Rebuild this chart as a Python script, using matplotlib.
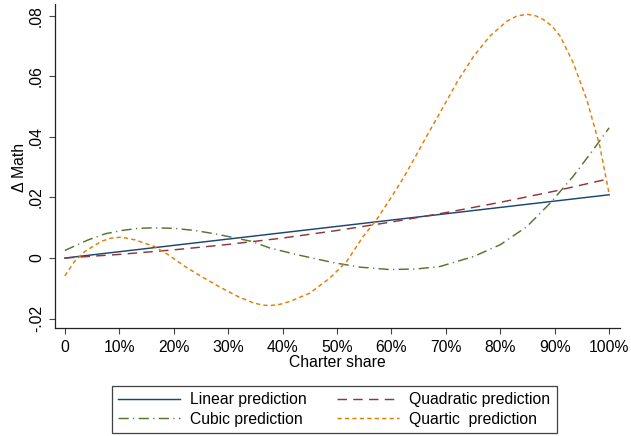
import matplotlib
matplotlib.use("Agg")
import matplotlib.pyplot as plt

plt.rcParams['font.family'] = ['Liberation Sans', 'DejaVu Sans']

# ---- data ----
linear_x = [0.0, 0.5, 1.0]
linear_y = [0.0, 0.01045, 0.0209]

quad_x = [0.0, 0.1, 0.2, 0.3, 0.4, 0.5, 0.6, 0.7, 0.8, 0.9, 1.0]
quad_y = [0.0, 0.0012, 0.0027, 0.0045, 0.0066, 0.0091, 0.0119, 0.0150, 0.0184, 0.0221, 0.0262]

cubic_x = [0.0, 0.043, 0.074, 0.104, 0.135, 0.165, 0.202, 0.239, 0.276, 0.306,
           0.343, 0.377, 0.432, 0.493, 0.542, 0.597, 0.646, 0.689, 0.751,
           0.800, 0.849, 0.892, 0.934, 0.971, 1.0]
cubic_y = [0.0025, 0.0060, 0.0080, 0.0091, 0.0098, 0.0100, 0.0098, 0.0091, 0.0080, 0.0069,
           0.0055, 0.0033, 0.0009, -0.0015, -0.0030, -0.0038, -0.0036, -0.0028, 0.0005,
           0.0044, 0.0104, 0.0182, 0.0270, 0.0358, 0.0430]

quart_x = [0.0, 0.018, 0.037, 0.067, 0.085, 0.104, 0.129, 0.165, 0.19, 0.221, 0.251, 0.288,
           0.318, 0.345, 0.362, 0.377, 0.395, 0.414, 0.450, 0.487, 0.518, 0.548, 0.573, 0.597,
           0.622, 0.646, 0.668, 0.689, 0.720, 0.751, 0.781, 0.812, 0.830, 0.849, 0.865, 0.879,
           0.895, 0.910, 0.934, 0.959, 0.983, 1.0]
quart_y = [-0.0059, -0.0011, 0.0022, 0.0055, 0.0066, 0.0069, 0.0060, 0.0038, 0.0011, -0.0028, -0.0061, -0.0099,
           -0.0127, -0.0147, -0.0155, -0.0157, -0.0153, -0.0143, -0.0116, -0.0066, -0.0011, 0.0071, 0.0127, 0.0193,
           0.0264, 0.0341, 0.0413, 0.0479, 0.0579, 0.0666, 0.0733, 0.0782, 0.0799, 0.0805, 0.0800, 0.0788,
           0.0766, 0.0733, 0.0645, 0.0523, 0.0369, 0.0212]

x_ticks = [0.0, 0.1, 0.2, 0.3, 0.4, 0.5, 0.6, 0.7, 0.8, 0.9, 1.0]
x_ticklabels = ['0', '10%', '20%', '30%', '40%', '50%', '60%', '70%', '80%', '90%', '100%']
y_ticks = [-0.02, 0.0, 0.02, 0.04, 0.06, 0.08]
y_ticklabels = ['-.02', '0', '.02', '.04', '.06', '.08']

labels = ['Linear prediction', 'Quadratic prediction', 'Cubic prediction', 'Quartic  prediction']

# ---- figure ----
fig = plt.figure(figsize=(6.31, 4.36), dpi=100)
ax = fig.add_axes([55/631, 1-328/436, (620-55)/631, (328-4)/436])

fs = 11.3
lw = 1.05
h1, = ax.plot(linear_x, linear_y, color='#1a476f', lw=lw, linestyle='-')
h2, = ax.plot(quad_x, quad_y, color='#90353b', lw=lw, linestyle=(0, (6.5, 4.3)))
h3, = ax.plot(cubic_x, cubic_y, color='#55752f', lw=lw, linestyle=(0, (7, 3, 0.8, 3)))
h4, = ax.plot(quart_x, quart_y, color='#e37e00', lw=lw, linestyle=(0, (2.9, 2.2)))

ax.set_xlim(-0.018, 1.02)
ax.set_ylim(-0.0231, 0.0839)

for s in ['top', 'right']:
    ax.spines[s].set_visible(False)
for s in ['left', 'bottom']:
    ax.spines[s].set_color('#222222')
    ax.spines[s].set_linewidth(0.9)

ax.set_xticks(x_ticks)
ax.set_xticklabels(x_ticklabels, fontsize=fs)
ax.set_yticks(y_ticks)
ax.set_yticklabels(y_ticklabels, fontsize=fs)
plt.setp(ax.get_yticklabels(), rotation=90, va='center', ha='right')
ax.tick_params(axis='both', length=4, width=0.8, color='#444444', direction='out')
ax.tick_params(axis='x', pad=4.5)
ax.tick_params(axis='y', pad=4)

ax.set_xlabel('Charter share', fontsize=fs)
ax.xaxis.set_label_coords(0.499, -0.108)
ax.xaxis.label.set_va('center')
ax.set_ylabel('\u0394 Math', fontsize=fs)
ax.yaxis.set_label_coords(-0.0637, 0.497)
ax.yaxis.label.set_va('center')

leg = fig.legend([h1, h3, h2, h4], [labels[0], labels[2], labels[1], labels[3]],
                 ncol=2, loc='lower left',
                 bbox_to_anchor=(112/631, 1-433/436),
                 fontsize=fs, handlelength=3.95, handletextpad=0.65,
                 borderpad=0.4, labelspacing=0.3, columnspacing=1.9,
                 fancybox=False, frameon=True, borderaxespad=0)
leg.get_frame().set_edgecolor('#111111')
leg.get_frame().set_linewidth(0.9)

fig.savefig('out.png', dpi=100)
